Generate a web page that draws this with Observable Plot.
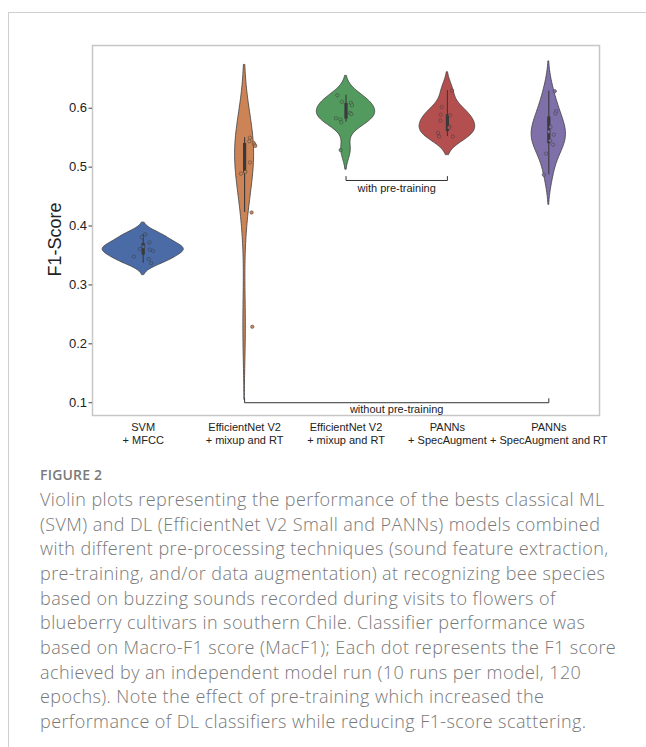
<!DOCTYPE html>
<html><head><meta charset="utf-8">
<script src="https://cdn.jsdelivr.net/npm/d3@7"></script>
<script src="https://cdn.jsdelivr.net/npm/@observablehq/plot@0.6"></script>
<style>
html,body{margin:0;padding:0;background:#fff}
body{width:646px;height:747px;overflow:hidden;position:relative;font-family:"Liberation Sans",Arial,sans-serif}
#border{position:absolute;left:8px;top:12px;right:-2px;bottom:-2px;border-top:1px solid #cfcfcf;border-left:1px solid #cfcfcf}
#chart{position:absolute;left:0;top:0}
#fig{position:absolute;left:40px;top:465px;font-family:"Open Sans",sans-serif;font-size:14px;color:#7a7a7a;font-weight:600;letter-spacing:0.2px}
#cap{position:absolute;left:40px;top:487px;font-family:"Open Sans",sans-serif;font-size:18px;letter-spacing:0.42px;line-height:24.65px;color:#787878;font-weight:300;white-space:nowrap}
</style></head><body>
<div id="border"></div>
<div id="chart"></div>
<div id="fig">FIGURE 2</div>
<div id="cap"></div>
<script>
// ---- data ----
const categories = ["SVM\n+ MFCC", "EfficientNet V2\n+ mixup and RT", "EfficientNet V2\n+ mixup and RT", "PANNs\n+ SpecAugment", "PANNs\n+ SpecAugment and RT"];
const svmMfcc      = [0.386, 0.381, 0.372, 0.365, 0.361, 0.360, 0.358, 0.348, 0.344, 0.337];
const effNetNoPre  = [0.550, 0.544, 0.541, 0.538, 0.536, 0.508, 0.492, 0.489, 0.423, 0.229];
const effNetPre    = [0.622, 0.611, 0.609, 0.605, 0.592, 0.590, 0.583, 0.581, 0.576, 0.529];
const pannsSpec    = [0.630, 0.602, 0.589, 0.588, 0.579, 0.569, 0.567, 0.558, 0.552, 0.552];
const pannsSpecRT  = [0.629, 0.595, 0.591, 0.568, 0.560, 0.555, 0.545, 0.538, 0.523, 0.487];
// horizontal jitter of each strip-plot dot (category units)
const jitSvm   = [0.020, -0.013, 0.062, 0.000, -0.033, 0.066, 0.096, -0.092, 0.056, 0.079];
const jitEffNo = [0.053, 0.046, 0.089, 0.099, 0.105, 0.053, 0.007, -0.036, 0.069, 0.076];
const jitEffPre= [-0.086, -0.039, 0.049, 0.059, 0.039, 0.053, -0.099, -0.056, -0.046, -0.053];
const jitPanns = [0.046, -0.056, -0.066, 0.026, -0.069, 0.020, 0.016, -0.092, -0.082, 0.053];
const jitPannsRT=[0.059, 0.072, 0.066, 0.016, 0.000, 0.049, 0.013, 0.043, -0.026, -0.049];
const colors = ["#4a6ba6", "#cc8456", "#529a5e", "#b44f4f", "#7f70aa"];
const yTicks = [0.1, 0.2, 0.3, 0.4, 0.5, 0.6];
const bracketLabels = ["with pre-training", "without pre-training"];
const bracketFrom = [2, 1];
const bracketTo   = [3, 4];
const bracketY    = [0.4773, 0.1];
const bracketTextY= [0.4637, 0.0893];
const captionLines = [
"Violin plots representing the performance of the bests classical ML",
"(SVM) and DL (EfficientNet V2 Small and PANNs) models combined",
"with different pre-processing techniques (sound feature extraction,",
"pre-training, and/or data augmentation) at recognizing bee species",
"based on buzzing sounds recorded during visits to flowers of",
"blueberry cultivars in southern Chile. Classifier performance was",
"based on Macro-F1 score (MacF1); Each dot represents the F1 score",
"achieved by an independent model run (10 runs per model, 120",
"epochs). Note the effect of pre-training which increased the",
"performance of DL classifiers while reducing F1-score scattering."
];

const series = [svmMfcc, effNetNoPre, effNetPre, pannsSpec, pannsSpecRT];
const jitters = [jitSvm, jitEffNo, jitEffPre, jitPanns, jitPannsRT];

// ---- gaussian KDE (Scott bandwidth, cut = 2), seaborn-like ----
function kde(vals) {
  const n = vals.length, sd = d3.deviation(vals), bw = sd * Math.pow(n, -1/5);
  const lo = d3.min(vals) - 2*bw, hi = d3.max(vals) + 2*bw;
  return d3.range(100).map(i => {
    const y = lo + (hi - lo) * i / 99;
    const d = d3.sum(vals, v => Math.exp(-0.5*((y - v)/bw)**2)) / (n*bw*Math.sqrt(2*Math.PI));
    return {y, d};
  });
}
const dens = series.map(kde);
const maxD = d3.max(dens.flat(), p => p.d);
const violinRows = dens.map((arr, i) => arr.map(p => ({cat: i, y: p.y, w: 0.4 * p.d / maxD})));

const stats = series.map((vals, i) => {
  const s = vals.slice().sort(d3.ascending);
  const q1 = d3.quantile(s, 0.25), q3 = d3.quantile(s, 0.75), med = d3.quantile(s, 0.5);
  const iqr = q3 - q1;
  const lo = d3.min(s.filter(v => v >= q1 - 1.5*iqr));
  const hi = d3.max(s.filter(v => v <= q3 + 1.5*iqr));
  return {cat: i, q1, q3, med, lo, hi};
});
const points = series.flatMap((vals, i) => vals.map((v, k) => ({cat: i, v, x: i + jitters[i][k]})));

const brackets = bracketLabels.map((label, k) => ({label, from: bracketFrom[k], to: bracketTo[k], y: bracketY[k], ty: bracketTextY[k]}));
const bracketPaths = brackets.flatMap((b, k) => [
  {k, x: b.from, y: b.y + 0.0068},
  {k, x: b.from, y: b.y},
  {k, x: b.to, y: b.y},
  {k, x: b.to, y: b.y + 0.0068}
]);

const marks = [
  Plot.frame({stroke: "#c6c6c6", strokeWidth: 1.5}),
  ...violinRows.map((rows, i) => Plot.areaX(rows, {y: "y", x1: d => d.cat - d.w, x2: d => d.cat + d.w, fill: colors[i], stroke: "#3f3f3f", strokeWidth: 0.8})),
  Plot.ruleX(stats, {x: "cat", y1: "lo", y2: "hi", stroke: "#3a3a3a", strokeWidth: 1.1}),
  Plot.ruleX(stats, {x: "cat", y1: "q1", y2: "q3", stroke: "#3a3a3a", strokeWidth: 3.2}),
  Plot.dot(points, {x: "x", y: "v", r: 1.7, fill: d => colors[d.cat], stroke: "#3a3a3a", strokeWidth: 0.6, strokeOpacity: 0.8}),
  Plot.line(bracketPaths, {x: "x", y: "y", z: "k", stroke: "#333", strokeWidth: 1}),
  Plot.text(brackets, {x: d => (d.from === 1 ? 2.5 : (d.from + d.to)/2), y: "ty", text: "label", fontSize: 11, fill: "#222"}),
  Plot.axisY({ticks: yTicks, tickFormat: d3.format(".1f"), tickSize: 3.5, tickPadding: 2, fontSize: 13, stroke: "#444", fill: "#222", label: null}),
  Plot.axisX({ticks: [0,1,2,3,4], tickFormat: i => categories[i], tickSize: 0, tickPadding: 6, fontSize: 11, lineHeight: 1.18, fill: "#222", label: null}),
  Plot.text(["F1-Score"], {frameAnchor: "left", textAnchor: "middle", rotate: -90, dx: -37, dy: 9, fontSize: 18, fill: "#222"})
];

const chart = Plot.plot({
  width: 646, height: 455,
  marginLeft: 92, marginRight: 47, marginTop: 45, marginBottom: 40,
  style: {fontFamily: "'Liberation Sans', Arial, sans-serif", background: "transparent", overflow: "visible"},
  x: {type: "linear", domain: [-0.5, 4.5], axis: null},
  y: {domain: [0.0783, 0.7065], axis: null},
  marks
});
document.getElementById("chart").append(chart);
document.getElementById("cap").innerHTML = captionLines.map(l => l.replace(/&/g,"&amp;")).join("<br>");
</script>
</body></html>
